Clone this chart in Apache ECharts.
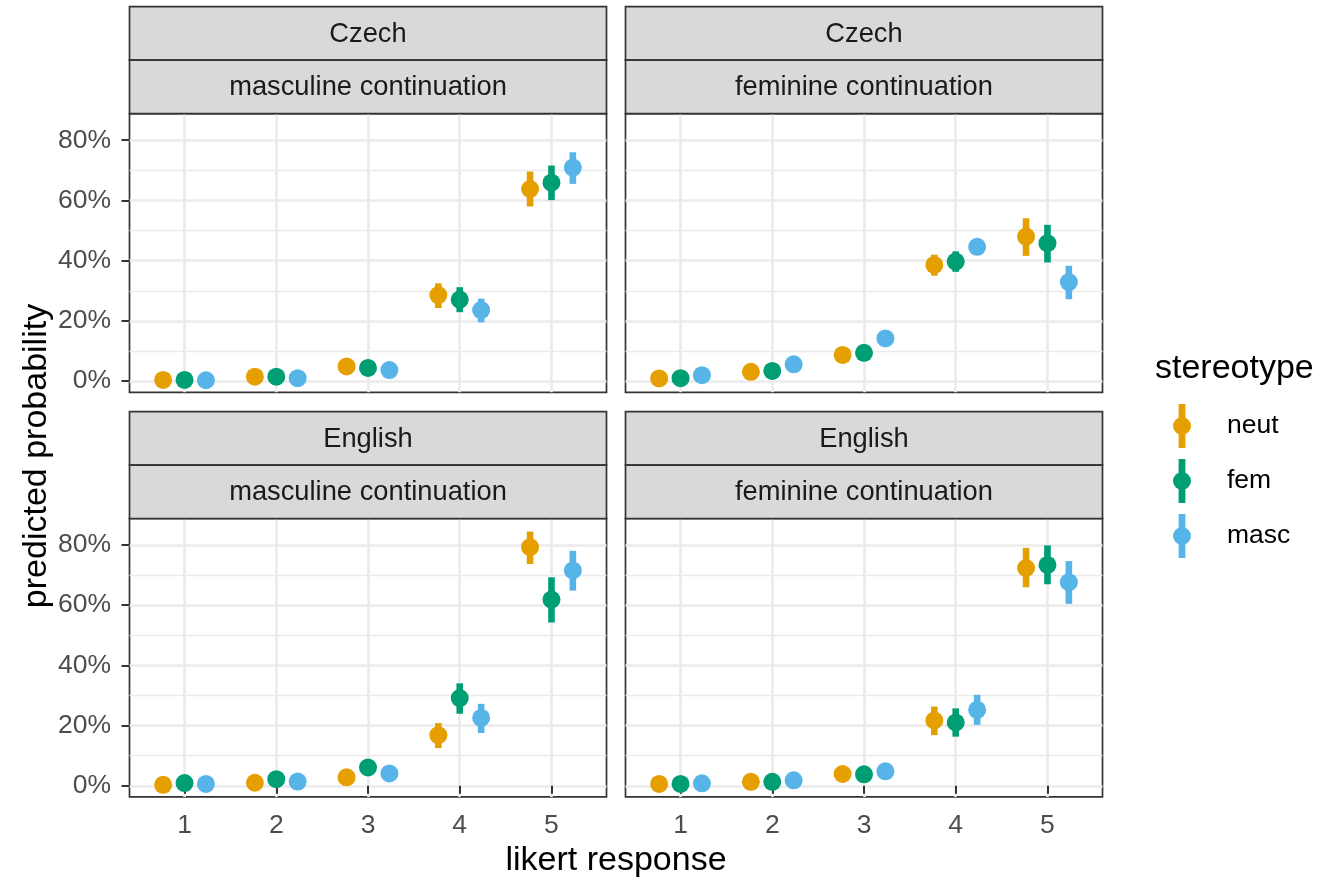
<!DOCTYPE html>
<html><head><meta charset="utf-8">
<script src="https://cdn.jsdelivr.net/npm/echarts@6/dist/echarts.min.js"></script>
<style>html,body{margin:0;padding:0;background:#fff}#c{width:1319px;height:880px}</style>
</head><body><div id="c"></div>
<script>
// ---------- data ----------
const likert = [1, 2, 3, 4, 5];
const stereotypes = ['neut', 'fem', 'masc'];
const languages = ['Czech', 'Czech', 'English', 'English'];
const continuations = ['masculine continuation', 'feminine continuation', 'masculine continuation', 'feminine continuation'];
const yTicks = [0, 20, 40, 60, 80];
const yMinorTicks = [10, 30, 50, 70];
// each row: [estimate, lower, upper] in %
const czechMascNeut = [[0.4, 0.2, 0.8], [1.5, 1.0, 2.2], [4.9, 3.8, 6.2], [28.6, 24.3, 32.5], [63.8, 58.0, 69.6]];
const czechMascFem  = [[0.4, 0.2, 0.8], [1.5, 1.0, 2.2], [4.4, 3.4, 5.6], [27.1, 22.9, 31.2], [65.9, 60.1, 71.6]];
const czechMascMasc = [[0.3, 0.1, 0.6], [1.0, 0.6, 1.6], [3.7, 2.7, 4.9], [23.6, 19.5, 27.4], [70.9, 65.5, 76.0]];
const czechFemNeut  = [[0.9, 0.5, 1.5], [3.1, 2.2, 4.2], [8.7, 6.8, 10.8], [38.6, 35.0, 42.0], [48.0, 41.6, 54.1]];
const czechFemFem   = [[1.0, 0.6, 1.6], [3.4, 2.4, 4.6], [9.4, 7.4, 11.6], [39.7, 36.3, 43.1], [45.8, 39.4, 51.9]];
const czechFemMasc  = [[2.0, 1.3, 2.9], [5.6, 4.2, 7.2], [14.2, 11.8, 16.8], [44.6, 42.2, 47.0], [32.9, 27.2, 38.3]];
const englishMascNeut = [[0.3, 0.1, 0.6], [1.0, 0.6, 1.6], [2.8, 1.9, 3.9], [16.8, 12.5, 20.8], [79.2, 73.6, 84.4]];
const englishMascFem  = [[0.9, 0.5, 1.5], [2.2, 1.5, 3.1], [6.1, 4.6, 7.8], [29.1, 23.9, 34.0], [61.8, 54.2, 69.2]];
const englishMascMasc = [[0.6, 0.3, 1.0], [1.4, 0.9, 2.1], [4.1, 3.0, 5.4], [22.5, 17.5, 27.2], [71.5, 64.8, 78.0]];
const englishFemNeut  = [[0.6, 0.3, 1.0], [1.3, 0.8, 2.0], [3.9, 2.8, 5.2], [21.7, 16.8, 26.3], [72.3, 65.9, 79.0]];
const englishFemFem   = [[0.6, 0.3, 1.0], [1.3, 0.8, 2.0], [3.8, 2.7, 5.1], [21.0, 16.3, 25.7], [73.3, 66.9, 79.8]];
const englishFemMasc  = [[0.8, 0.4, 1.3], [1.8, 1.2, 2.6], [4.8, 3.6, 6.2], [25.2, 20.2, 30.2], [67.6, 60.4, 74.6]];

const panelData = [
  [czechMascNeut, czechMascFem, czechMascMasc],
  [czechFemNeut, czechFemFem, czechFemMasc],
  [englishMascNeut, englishMascFem, englishMascMasc],
  [englishFemNeut, englishFemFem, englishFemMasc]
];

// ---------- style / layout ----------
const colors = ['#E69F00', '#009E73', '#56B4E9'];
const dodge = [-0.2333, 0, 0.2333];
const FONT = '"Liberation Sans", Arial, Helvetica, sans-serif';
const SMALL = 26.5, STRIP = 27.3, BIG = 34;
const panelLeft = [129.5, 625.5];
const panelWidth = 477;
const panelTop = [113.7, 518.3];
const panelHeight = 278.6;
const stripTop = [6.7, 411.7];
const stripH = 53.5;
const Y_MIN = -3.7, Y_MAX = 88.8;

const grids = [], xAxes = [], yAxes = [], series = [], graphics = [];

for (let p = 0; p < 4; p++) {
  const col = p % 2, row = Math.floor(p / 2);
  const isBottom = row === 1, isLeft = col === 0;
  grids.push({
    left: panelLeft[col], top: panelTop[row], width: panelWidth, height: panelHeight,
    show: true, borderColor: '#333333', borderWidth: 1.7, backgroundColor: '#ffffff', containLabel: false
  });
  xAxes.push({
    gridIndex: p, type: 'value', min: 0.4, max: 5.6,
    axisLine: { show: false },
    axisTick: { show: isBottom, customValues: likert, length: 8, lineStyle: { color: '#333333', width: 2 } },
    axisLabel: { show: isBottom, customValues: likert, margin: 15, color: '#4D4D4D', fontSize: SMALL, fontFamily: FONT },
    splitLine: { show: true, lineStyle: { color: '#EBEBEB', width: 2.7 } }
  });
  // minor y grid axis
  yAxes.push({
    gridIndex: p, type: 'value', min: Y_MIN, max: Y_MAX, position: 'left',
    axisLine: { show: false },
    axisTick: { show: false, customValues: yMinorTicks },
    axisLabel: { show: false },
    splitLine: { show: true, lineStyle: { color: '#EBEBEB', width: 1.4 } }
  });
  // major y axis
  yAxes.push({
    gridIndex: p, type: 'value', min: Y_MIN, max: Y_MAX, position: 'left',
    axisLine: { show: false },
    axisTick: { show: isLeft, customValues: yTicks, length: 8, lineStyle: { color: '#333333', width: 2 } },
    axisLabel: { show: isLeft, customValues: yTicks, formatter: '{value}%', margin: 18.5, color: '#4D4D4D', fontSize: SMALL, fontFamily: FONT },
    splitLine: { show: true, lineStyle: { color: '#EBEBEB', width: 2.7 } }
  });

  // strips
  const sx = panelLeft[col];
  const labels = [languages[p], continuations[p]];
  for (let k = 0; k < 2; k++) {
    const sy = stripTop[row] + k * stripH;
    graphics.push({
      type: 'rect', shape: { x: sx, y: sy, width: panelWidth, height: stripH },
      style: { fill: '#D9D9D9', stroke: '#333333', lineWidth: 1.7 }, z: 10
    });
    graphics.push({
      type: 'text', x: sx + panelWidth / 2, y: sy + stripH / 2 + 1, z: 11,
      style: { text: labels[k], fill: '#1A1A1A', font: STRIP + 'px ' + FONT, textAlign: 'center', textVerticalAlign: 'middle', align: 'center', verticalAlign: 'middle' }
    });
  }

  // series
  for (let s = 0; s < 3; s++) {
    const arr = panelData[p][s];
    const c = colors[s];
    series.push({
      type: 'custom', name: stereotypes[s], xAxisIndex: p, yAxisIndex: 2 * p + 1,
      data: likert.map((k, i) => [k + dodge[s], arr[i][1], arr[i][2]]),
      encode: { x: 0, y: [1, 2] },
      itemStyle: { color: c },
      renderItem: (params, api) => {
        const x = api.value(0);
        const a = api.coord([x, api.value(1)]);
        const b = api.coord([x, api.value(2)]);
        return { type: 'line', shape: { x1: a[0], y1: a[1], x2: b[0], y2: b[1] }, style: { stroke: c, lineWidth: 6.6 } };
      },
      z: 3
    });
    series.push({
      type: 'scatter', name: stereotypes[s], xAxisIndex: p, yAxisIndex: 2 * p + 1,
      data: likert.map((k, i) => [k + dodge[s], arr[i][0]]),
      symbol: 'circle', symbolSize: 18,
      itemStyle: { color: c, opacity: 1 },
      z: 4
    });
  }
}

// titles
graphics.push({
  type: 'text', x: 37, y: 456, rotation: Math.PI / 2,
  style: { text: 'predicted probability', fill: '#000000', font: BIG + 'px ' + FONT, textAlign: 'center', textVerticalAlign: 'middle', align: 'center', verticalAlign: 'middle' }
});
graphics.push({
  type: 'text', x: 616, y: 861,
  style: { text: 'likert response', fill: '#000000', font: BIG + 'px ' + FONT, textAlign: 'center', textVerticalAlign: 'middle', align: 'center', verticalAlign: 'middle' }
});
graphics.push({
  type: 'text', x: 1155, y: 369,
  style: { text: 'stereotype', fill: '#000000', font: BIG + 'px ' + FONT, textAlign: 'left', textVerticalAlign: 'middle', align: 'left', verticalAlign: 'middle' }
});

const ICON = 'path://M5.6,0 L12.4,0 L12.4,44 L5.6,44 Z M0,22 A9,9 0 1,1 18,22 A9,9 0 1,1 0,22 Z';

const chart = echarts.init(document.getElementById('c'), null, { renderer: 'canvas' });
chart.setOption({
  animation: false,
  backgroundColor: '#ffffff',
  grid: grids,
  xAxis: xAxes,
  yAxis: yAxes,
  legend: {
    left: 1173, top: 404, orient: 'vertical', padding: 0,
    itemWidth: 18, itemHeight: 44, itemGap: 11,
    data: stereotypes.map((s, i) => ({ name: s, icon: ICON, itemStyle: { color: colors[i] } })),
    textStyle: { fontSize: SMALL, color: '#000000', fontFamily: FONT, padding: [0, 0, 0, 31] }
  },
  graphic: { elements: graphics },
  series: series
});
</script></body></html>
